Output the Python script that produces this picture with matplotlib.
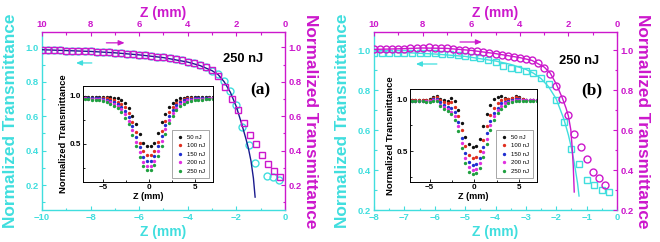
"""Two-panel Z-scan figure: (a) and (b), open/closed aperture curves at 250 nJ on
twin axes (cyan = bottom/left, magenta = top/right) with an inset of all pulse
energies."""

import matplotlib
matplotlib.use("Agg")
import matplotlib.pyplot as plt  # noqa: E402
from matplotlib.ticker import MultipleLocator  # noqa: E402

CYAN = "#40DEDE"
MAGENTA = "#CC18CC"
NAVY = "#1A1A8E"
INSET_COLORS = ["#111111", "#E03020", "#2030D0", "#E030E0", "#20A040"]
INSET_LABELS = ["50 nJ", "100 nJ", "150 nJ", "200 nJ", "250 nJ"]

# ---------------- panel (a) main data ----------------
a_cyan_z = [-10.0, -9.75, -9.5, -9.25, -9.0, -8.75, -8.5, -8.25, -8.0, -7.75,
            -7.5, -7.25, -7.0, -6.75, -6.5, -6.25, -6.0, -5.75, -5.5, -5.25,
            -5.0, -4.75, -4.5, -4.25, -4.0, -3.75, -3.5, -3.25, -3.0, -2.75,
            -2.5, -2.25, -2.0, -1.75, -1.5, -1.25, -0.75, -0.5, -0.25]
a_cyan_t = [0.985, 0.985, 0.984, 0.983, 0.982, 0.981, 0.980, 0.979, 0.978, 0.976,
            0.974, 0.972, 0.970, 0.967, 0.964, 0.961, 0.958, 0.955, 0.951, 0.947,
            0.943, 0.938, 0.932, 0.926, 0.918, 0.909, 0.898, 0.884, 0.866, 0.843,
            0.805, 0.745, 0.668, 0.540, 0.435, 0.326, 0.253, 0.247, 0.230]

a_mag_z = [10.0, 9.75, 9.5, 9.25, 9.0, 8.75, 8.5, 8.25, 8.0, 7.75,
           7.5, 7.25, 7.0, 6.75, 6.5, 6.25, 6.0, 5.75, 5.5, 5.25,
           5.0, 4.75, 4.5, 4.25, 4.0, 3.75, 3.5, 3.25, 3.0, 2.75,
           2.45, 2.2, 1.95, 1.7, 1.45, 1.2, 0.95, 0.7, 0.45, 0.2]
a_mag_t = [0.985, 0.985, 0.984, 0.983, 0.982, 0.981, 0.980, 0.979, 0.978, 0.976,
           0.974, 0.972, 0.970, 0.967, 0.964, 0.961, 0.958, 0.955, 0.951, 0.947,
           0.943, 0.938, 0.932, 0.926, 0.918, 0.909, 0.898, 0.884, 0.868, 0.835,
           0.773, 0.700, 0.637, 0.563, 0.490, 0.440, 0.373, 0.320, 0.283, 0.248]

a_fit_z = [-10, -9, -8, -7, -6, -5, -4, -3.5, -3, -2.75, -2.5, -2.25, -2.0,
           -1.75, -1.6, -1.5, -1.4, -1.3, -1.23]
a_fit_t = [0.987, 0.982, 0.977, 0.969, 0.957, 0.941, 0.915, 0.895, 0.865, 0.842,
           0.800, 0.740, 0.655, 0.540, 0.465, 0.410, 0.340, 0.240, 0.130]

# ---------------- panel (b) main data ----------------
b_cyan_z = [-8.0, -7.75, -7.5, -7.25, -7.0, -6.75, -6.5, -6.25, -6.0, -5.75,
            -5.5, -5.25, -5.0, -4.75, -4.5, -4.25, -4.0, -3.75, -3.5, -3.25,
            -3.0, -2.75, -2.5, -2.25, -2.0, -1.75, -1.5, -1.25, -1.0, -0.75,
            -0.5, -0.25]
b_cyan_t = [0.987, 0.987, 0.986, 0.986, 0.985, 0.985, 0.984, 0.984, 0.983, 0.982,
            0.978, 0.974, 0.970, 0.965, 0.960, 0.952, 0.940, 0.920, 0.910, 0.903,
            0.895, 0.885, 0.860, 0.828, 0.750, 0.640, 0.505, 0.432, 0.350, 0.323,
            0.300, 0.290]

b_mag_z = [10.0, 9.75, 9.5, 9.25, 9.0, 8.75, 8.5, 8.25, 8.0, 7.75,
           7.5, 7.25, 7.0, 6.75, 6.5, 6.25, 6.0, 5.75, 5.5, 5.25,
           5.0, 4.75, 4.5, 4.25, 4.0, 3.75, 3.5, 3.25, 3.0, 2.75,
           2.5, 2.25, 2.0, 1.75, 1.5, 1.25, 1.0, 0.75, 0.5]
b_mag_t = [1.003, 1.003, 1.004, 1.004, 1.005, 1.006, 1.008, 1.010, 1.012, 1.013,
           1.012, 1.010, 1.008, 1.005, 1.002, 1.000, 0.997, 0.993, 0.989, 0.985,
           0.981, 0.977, 0.972, 0.967, 0.962, 0.956, 0.950, 0.937, 0.912, 0.882,
           0.820, 0.757, 0.673, 0.580, 0.517, 0.453, 0.390, 0.362, 0.327]

b_cyan_fit_z = [-8, -7, -6, -5, -4, -3.5, -3, -2.75, -2.5, -2.25, -2.0, -1.75,
                -1.6, -1.5, -1.4, -1.3, -1.25]
b_cyan_fit_t = [0.990, 0.987, 0.980, 0.968, 0.945, 0.928, 0.903, 0.884, 0.857,
                0.816, 0.755, 0.655, 0.575, 0.510, 0.430, 0.335, 0.270]
b_mag_fit_z = [10, 9, 8, 7, 6, 5, 4, 3.5, 3, 2.75, 2.5, 2.25, 2.1, 2.0, 1.9,
               1.85, 1.8, 1.76]
b_mag_fit_t = [1.003, 1.006, 1.010, 1.008, 0.998, 0.982, 0.962, 0.948, 0.915,
               0.885, 0.830, 0.760, 0.710, 0.670, 0.600, 0.520, 0.420, 0.290]

# ---------------- insets ----------------
inset_z = [-7.0, -6.6, -6.2, -5.8, -5.4, -5.0, -4.6, -4.2, -3.8, -3.4, -3.0, -2.6,
           -2.2, -1.8, -1.4, -1.0, -0.6, -0.2, 0.2, 0.6, 1.0, 1.4, 1.8, 2.2,
           2.6, 3.0, 3.4, 3.8, 4.2, 4.6, 5.0, 5.4, 5.8, 6.2, 6.6, 7.0]

a_in_50 = [0.99, 0.99, 0.99, 0.99, 0.99, 0.99, 0.99, 0.99, 0.98, 0.97, 0.95, 0.92,
           0.87, 0.79, 0.70, 0.60, 0.51, 0.48, 0.48, 0.51, 0.61, 0.72, 0.81, 0.88,
           0.92, 0.95, 0.97, 0.98, 0.99, 0.99, 0.99, 0.99, 0.99, 0.99, 0.99, 0.99]
a_in_100 = [0.98, 0.98, 0.98, 0.98, 0.98, 0.97, 0.97, 0.96, 0.95, 0.93, 0.91, 0.88,
            0.82, 0.73, 0.62, 0.51, 0.42, 0.38, 0.38, 0.42, 0.52, 0.63, 0.74, 0.83,
            0.88, 0.92, 0.94, 0.96, 0.97, 0.97, 0.98, 0.98, 0.98, 0.98, 0.98, 0.98]
a_in_150 = [0.975, 0.975, 0.97, 0.97, 0.97, 0.96, 0.95, 0.94, 0.93, 0.91, 0.88, 0.84,
            0.78, 0.68, 0.57, 0.46, 0.36, 0.32, 0.32, 0.37, 0.47, 0.58, 0.69, 0.79,
            0.85, 0.90, 0.93, 0.95, 0.96, 0.96, 0.97, 0.97, 0.97, 0.975, 0.975, 0.975]
a_in_200 = [0.97, 0.965, 0.965, 0.96, 0.96, 0.95, 0.94, 0.93, 0.91, 0.89, 0.86, 0.81,
            0.74, 0.64, 0.52, 0.41, 0.31, 0.27, 0.27, 0.32, 0.42, 0.53, 0.65, 0.75,
            0.82, 0.87, 0.91, 0.93, 0.95, 0.95, 0.96, 0.96, 0.965, 0.965, 0.97, 0.97]
a_in_250 = [0.96, 0.96, 0.955, 0.95, 0.95, 0.94, 0.93, 0.91, 0.89, 0.87, 0.83, 0.77,
            0.70, 0.59, 0.47, 0.36, 0.27, 0.23, 0.23, 0.28, 0.37, 0.48, 0.60, 0.71,
            0.79, 0.85, 0.89, 0.91, 0.93, 0.94, 0.95, 0.95, 0.955, 0.96, 0.96, 0.96]

b_in_50 = [0.99, 0.99, 0.99, 0.99, 0.99, 1.00, 1.02, 1.03, 1.00, 0.99, 0.98, 1.01,
           0.98, 0.90, 0.77, 0.64, 0.57, 0.54, 0.55, 0.62, 0.74, 0.86, 0.95, 1.00,
           1.02, 1.03, 1.01, 1.00, 1.01, 1.03, 1.02, 1.00, 0.99, 0.99, 0.99, 0.99]
b_in_100 = [0.99, 0.99, 0.99, 0.99, 0.99, 0.99, 1.01, 1.02, 0.99, 0.97, 0.96, 0.97,
            0.93, 0.84, 0.70, 0.55, 0.46, 0.43, 0.44, 0.50, 0.61, 0.74, 0.85, 0.92,
            0.96, 0.99, 1.00, 1.00, 1.01, 1.02, 1.01, 1.00, 0.99, 0.99, 0.99, 0.99]
b_in_150 = [0.98, 0.98, 0.98, 0.98, 0.98, 0.98, 1.00, 1.00, 0.97, 0.95, 0.93, 0.92,
            0.88, 0.78, 0.63, 0.48, 0.39, 0.36, 0.37, 0.43, 0.54, 0.67, 0.79, 0.87,
            0.92, 0.96, 0.97, 0.98, 0.99, 1.00, 1.00, 0.99, 0.99, 0.99, 0.99, 0.99]
b_in_200 = [0.98, 0.98, 0.98, 0.98, 0.98, 0.98, 0.99, 0.99, 0.95, 0.93, 0.91, 0.88,
            0.84, 0.74, 0.58, 0.43, 0.35, 0.32, 0.33, 0.38, 0.49, 0.62, 0.75, 0.84,
            0.90, 0.94, 0.96, 0.97, 0.98, 0.99, 0.99, 0.99, 0.99, 0.99, 0.99, 0.99]
b_in_250 = [0.98, 0.98, 0.98, 0.98, 0.97, 0.97, 0.98, 0.98, 0.94, 0.91, 0.89, 0.86,
            0.80, 0.69, 0.53, 0.38, 0.30, 0.28, 0.29, 0.34, 0.44, 0.57, 0.70, 0.80,
            0.87, 0.91, 0.94, 0.96, 0.97, 0.98, 0.98, 0.98, 0.98, 0.98, 0.98, 0.98]

plt.rcParams["font.family"] = ["Liberation Sans", "DejaVu Sans"]
plt.rcParams["font.weight"] = "bold"
plt.rcParams["axes.labelweight"] = "bold"

W, H = 660, 242


def _rect(x0, y0, x1, y1):
    # pixel box (top-left origin) -> figure fraction rect
    return [x0 / W, (H - y1) / H, (x1 - x0) / W, (y1 - y0) / H]


def _main_axes(fig, rect, xlim, ylim, xmaj, xmin, top_lim):
    ax = fig.add_axes(rect)
    axt = fig.add_axes(rect, label="top")
    axt.patch.set_visible(False)
    for s in axt.spines.values():
        s.set_visible(False)
    axt.xaxis.tick_top()
    axt.xaxis.set_label_position("top")
    axt.yaxis.tick_right()
    axt.yaxis.set_label_position("right")

    ax.set_xlim(*xlim)
    ax.set_ylim(*ylim)
    axt.set_xlim(*top_lim)
    axt.set_ylim(*ylim)

    ax.spines["left"].set_color(CYAN)
    ax.spines["bottom"].set_color(CYAN)
    ax.spines["top"].set_color(MAGENTA)
    ax.spines["right"].set_color(MAGENTA)
    for s in ax.spines.values():
        s.set_linewidth(1.0)

    ax.xaxis.set_major_locator(MultipleLocator(xmaj))
    ax.xaxis.set_minor_locator(MultipleLocator(xmin))
    ax.yaxis.set_major_locator(MultipleLocator(0.2))
    ax.yaxis.set_minor_locator(MultipleLocator(0.1))
    axt.xaxis.set_major_locator(MultipleLocator(2))
    axt.xaxis.set_minor_locator(MultipleLocator(1))
    axt.yaxis.set_major_locator(MultipleLocator(0.2))
    axt.yaxis.set_minor_locator(MultipleLocator(0.1))

    for a, col in ((ax, CYAN), (axt, MAGENTA)):
        a.tick_params(which="both", direction="in", colors=col, labelsize=6.8,
                      width=0.8, pad=2.5)
        a.tick_params(which="major", length=3.2)
        a.tick_params(which="minor", length=1.8)

    ax.set_xlabel("Z (mm)", color=CYAN, fontsize=10, labelpad=2)
    ax.set_ylabel("Normalized Transmittance", color=CYAN, fontsize=12.4,
                  labelpad=5)
    axt.set_xlabel("Z (mm)", color=MAGENTA, fontsize=10, labelpad=2)
    axt.set_ylabel("Normalized Transmittance", color=MAGENTA, fontsize=12.4,
                   rotation=270, labelpad=12)
    return ax, axt


def _inset(fig, rect, ylim, series):
    ins = fig.add_axes(rect)
    for vals, col, lab in zip(series, INSET_COLORS, INSET_LABELS):
        ins.plot(inset_z, vals, "o", ms=1.4, color=col, mec=col, label=lab)
    ins.set_xlim(-7.2, 7.0)
    ins.set_ylim(*ylim)
    ins.xaxis.set_major_locator(MultipleLocator(5))
    ins.xaxis.set_minor_locator(MultipleLocator(2.5))
    ins.yaxis.set_major_locator(MultipleLocator(0.5))
    ins.yaxis.set_minor_locator(MultipleLocator(0.25))
    ins.tick_params(which="both", direction="in", labelsize=5.8, width=0.6, pad=1.5)
    ins.tick_params(which="major", length=2.2)
    ins.tick_params(which="minor", length=1.2)
    for s in ins.spines.values():
        s.set_linewidth(0.7)
    ins.set_xlabel("Z (mm)", fontsize=6.6, labelpad=1)
    ins.set_ylabel("Normalized Transmittance", fontsize=6.8, labelpad=1)
    leg = ins.legend(loc="lower right", prop={"size": 4.3, "weight": "normal"},
                     frameon=True, fancybox=False, handlelength=0.9,
                     handletextpad=0.7, labelspacing=0.55, borderpad=0.8,
                     borderaxespad=0.6, markerscale=1.0)
    leg.get_frame().set_edgecolor("0.4")
    leg.get_frame().set_linewidth(0.5)
    return ins


def _arrow(ax, start, end, color):
    ax.annotate("", xy=end, xytext=start,
                arrowprops=dict(arrowstyle="-|>,head_length=0.35,head_width=0.15",
                                color=color, lw=0.9, shrinkA=0, shrinkB=0))


fig = plt.figure(figsize=(6.6, 2.42), dpi=100)

# panel (a)
ax, axt = _main_axes(fig, _rect(42, 32, 285, 210), (-10, 0), (0.055, 1.09),
                     2, 1, (10, 0))
ax.plot(a_cyan_z, a_cyan_t, "o", ms=5, mfc="none", mec=CYAN, mew=1.0)
axt.plot(a_mag_z, a_mag_t, "s", ms=4.3, mfc="none", mec=MAGENTA, mew=1.0)
ax.plot(a_fit_z, a_fit_t, "-", color=NAVY, lw=1.0, zorder=5)
_arrow(axt, (7.35, 1.027), (6.6, 1.027), MAGENTA)
_arrow(ax, (-7.95, 0.91), (-8.6, 0.91), CYAN)
ax.text(0.827, 0.848, "250 nJ", transform=ax.transAxes, fontsize=9.3,
        ha="center", va="center")
ax.text(0.897, 0.674, "(a)", transform=ax.transAxes, fontsize=12.5,
        ha="center", va="center", family="Liberation Serif", weight="bold")
_inset(fig, _rect(83, 86, 213, 182), (0.1, 1.1),
       [a_in_50, a_in_100, a_in_150, a_in_200, a_in_250])

# panel (b)
bx, bxt = _main_axes(fig, _rect(374, 32, 617, 210), (-8, 0), (0.2, 1.09),
                     1, 0.5, (10, 0))
bx.plot(b_cyan_z, b_cyan_t, "s", ms=4.3, mfc="none", mec=CYAN, mew=1.0)
bxt.plot(b_mag_z, b_mag_t, "o", ms=5, mfc="none", mec=MAGENTA, mew=1.0)
bx.plot(b_cyan_fit_z, b_cyan_fit_t, "-", color=CYAN, lw=1.0)
bxt.plot(b_mag_fit_z, b_mag_fit_t, "-", color=MAGENTA, lw=1.0)
_arrow(bxt, (6.46, 1.04), (5.56, 1.04), MAGENTA)
_arrow(bx, (-5.93, 0.93), (-6.62, 0.93), CYAN)
bx.text(0.844, 0.837, "250 nJ", transform=bx.transAxes, fontsize=9.3,
        ha="center", va="center")
bx.text(0.897, 0.674, "(b)", transform=bx.transAxes, fontsize=12.5,
        ha="center", va="center", family="Liberation Serif", weight="bold")
_inset(fig, _rect(410, 89, 537, 182), (0.2, 1.1),
       [b_in_50, b_in_100, b_in_150, b_in_200, b_in_250])

fig.savefig("out.png", dpi=100)
plt.close(fig)
